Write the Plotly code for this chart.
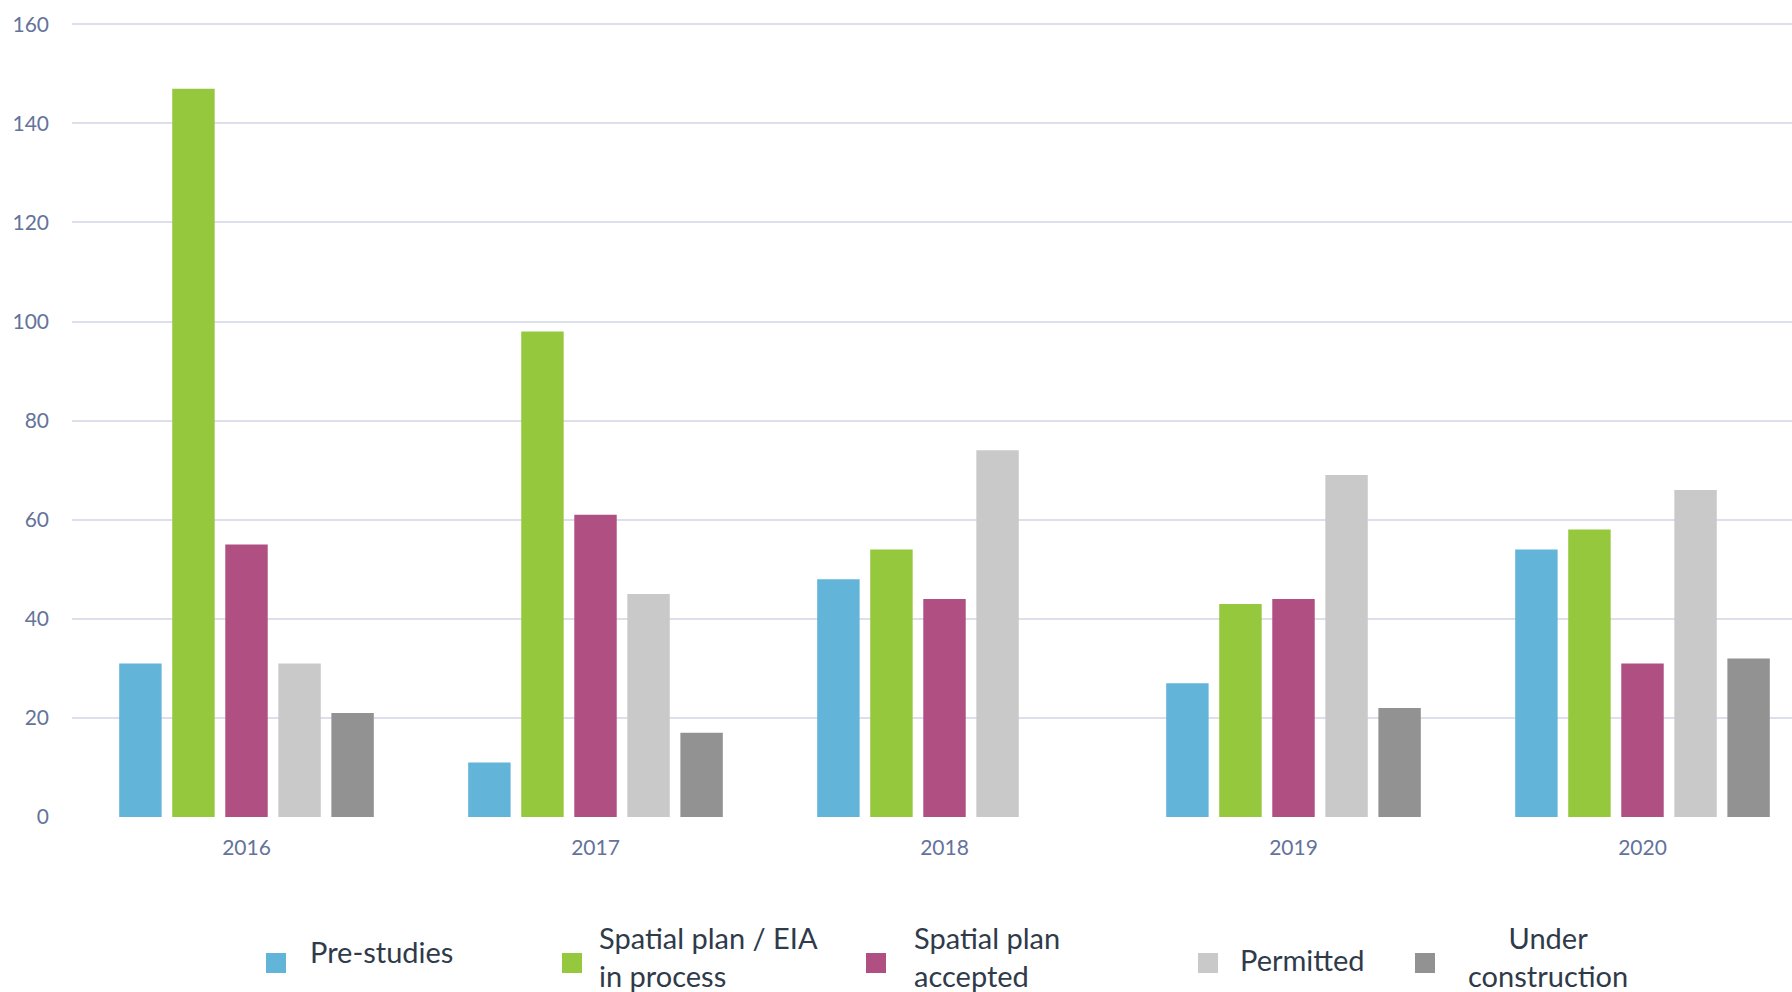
import plotly.graph_objects as go

years = ["2016", "2017", "2018", "2019", "2020"]
series_names = ["Pre-studies", "Spatial plan / EIA<br>in process", "Spatial plan<br>accepted",
                "Permitted", "Under<br>construction"]
pre_studies = [31, 11, 48, 27, 54]
spatial_in_process = [147, 98, 54, 43, 58]
spatial_accepted = [55, 61, 44, 44, 31]
permitted = [31, 45, 74, 69, 66]
under_construction = [21, 17, None, 22, 32]
y_ticks = [0, 20, 40, 60, 80, 100, 120, 140, 160]

colors = ["#62B4D9", "#95C83D", "#AF4F82", "#C9C9C9", "#929292"]
values = [pre_studies, spatial_in_process, spatial_accepted, permitted, under_construction]

FONT = "Lato"
OFF = 0  # body margin removed via post_script
W, H = 1792, 992
ML, MR, MT = 72 - OFF, 0, 23 - OFF
MB = H - (817 - OFF)
plot_w = W - ML - MR
plot_h = H - MT - MB

fig = go.Figure()
for name, vals, col in zip(series_names, values, colors):
    fig.add_trace(go.Bar(x=years, y=vals, name=name.replace("<br>", " "),
                         marker=dict(color=col, line=dict(width=0)), showlegend=False))

cat_px = 349.0
x_max = -0.5 + plot_w / cat_px

fig.update_layout(
    width=W, height=H,
    margin=dict(l=ML, r=MR, t=MT, b=MB, pad=0),
    paper_bgcolor="white", plot_bgcolor="white",
    barmode="group", bargap=0.24, bargroupgap=0.2,
    font=dict(family=FONT),
    xaxis=dict(type="category", range=[-0.5, x_max], showgrid=False, showline=False,
               zeroline=False, ticks="", tickfont=dict(size=21, color="#64739A", family=FONT),
               ticklabelstandoff=16),
    yaxis=dict(range=[0, 160.25], tickvals=y_ticks, showgrid=True, gridcolor="#DDE0EA",
               gridwidth=1.8, zeroline=False, showline=False, ticks="",
               tickfont=dict(size=21, color="#64739A", family=FONT), ticklabelstandoff=22),
)

# manual legend (reference pixel positions converted to paper coordinates)
def px_x(px):
    return (px - OFF - ML) / plot_w

def px_y(py):
    return (H - MB - (py - OFF)) / plot_h

legend_items = [
    # marker_x, text_x, text_center_y, align
    (266, 308, 951, "left"),
    (562, 597, 956, "left"),
    (866, 912, 956, "left"),
    (1198, 1238, 959, "left"),
    (1415, 1548, 956, "center"),
]
for (mx, tx, ty, al), name, col in zip(legend_items, series_names, colors):
    fig.add_shape(type="rect", xref="paper", yref="paper",
                  x0=px_x(mx), x1=px_x(mx + 20), y0=px_y(973), y1=px_y(953),
                  fillcolor=col, line=dict(width=0))
    fig.add_annotation(xref="paper", yref="paper", x=px_x(tx), y=px_y(ty),
                       xanchor="left" if al == "left" else "center", yanchor="middle",
                       text=name, showarrow=False, align=al,
                       font=dict(size=29, color="#2F3A4A", family=FONT))

fig.write_html("out.html", config={"responsive": False, "displayModeBar": False},
               post_script="document.body.style.margin='0';document.body.style.overflow='hidden';")
